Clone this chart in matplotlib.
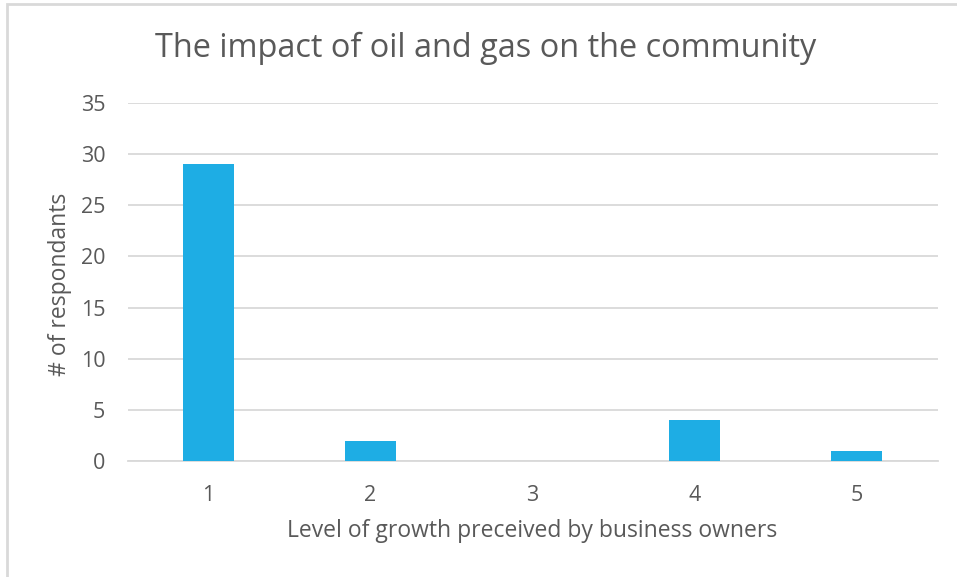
import matplotlib
matplotlib.use("Agg")
import matplotlib.pyplot as plt
from matplotlib.patches import Rectangle

# survey counts per growth level
levels = ["1", "2", "3", "4", "5"]
counts = [29, 2, 0, 4, 1]
yticks = [0, 5, 10, 15, 20, 25, 30, 35]

plt.rcParams['font.family'] = ['Open Sans', 'DejaVu Sans']
text_color = '#595959'
grid_color = '#D9D9D9'

W, H = 957, 577
fig = plt.figure(figsize=(W / 100, H / 100), dpi=100)

# chart frame (left/top edges visible)
fig.patches.append(Rectangle((7 / W, -0.1), 1.2, 1 - 4 / H + 0.1, transform=fig.transFigure,
                             fill=False, edgecolor=grid_color, linewidth=2))

ax = fig.add_axes([127.5 / W, 1 - 461.3 / H, 810 / W, (461.3 - 102.7) / H])
x = range(len(levels))
ax.bar(x, counts, width=0.31, color='#1EADE4', zorder=3)

ax.set_xlim(-0.5, len(levels) - 0.5)
ax.set_ylim(0, 35)
ax.set_yticks(yticks)
ax.set_xticks(list(x))
ax.set_xticklabels(levels)
ax.grid(axis='y', color=grid_color, linewidth=1.3, zorder=0)
for s in ['top', 'right', 'left']:
    ax.spines[s].set_visible(False)
ax.spines['bottom'].set_color(grid_color)
ax.spines['bottom'].set_linewidth(1.3)
ax.tick_params(length=0, labelsize=15.5, colors=text_color)
ax.tick_params(axis='x', pad=17)
ax.tick_params(axis='y', pad=16)

fig.text(532 / W, 1 - 531 / H, "Level of growth preceived by business owners",
         fontsize=16.5, color=text_color, ha='center', va='center')
fig.text(60 / W, 1 - 284 / H, "# of respondants", rotation=90,
         fontsize=16.5, color=text_color, ha='center', va='center')
fig.text(486 / W, 1 - 48 / H, "The impact of oil and gas on the community",
         fontsize=23.4, color=text_color, ha='center', va='center')

fig.savefig("out.png", dpi=100)
